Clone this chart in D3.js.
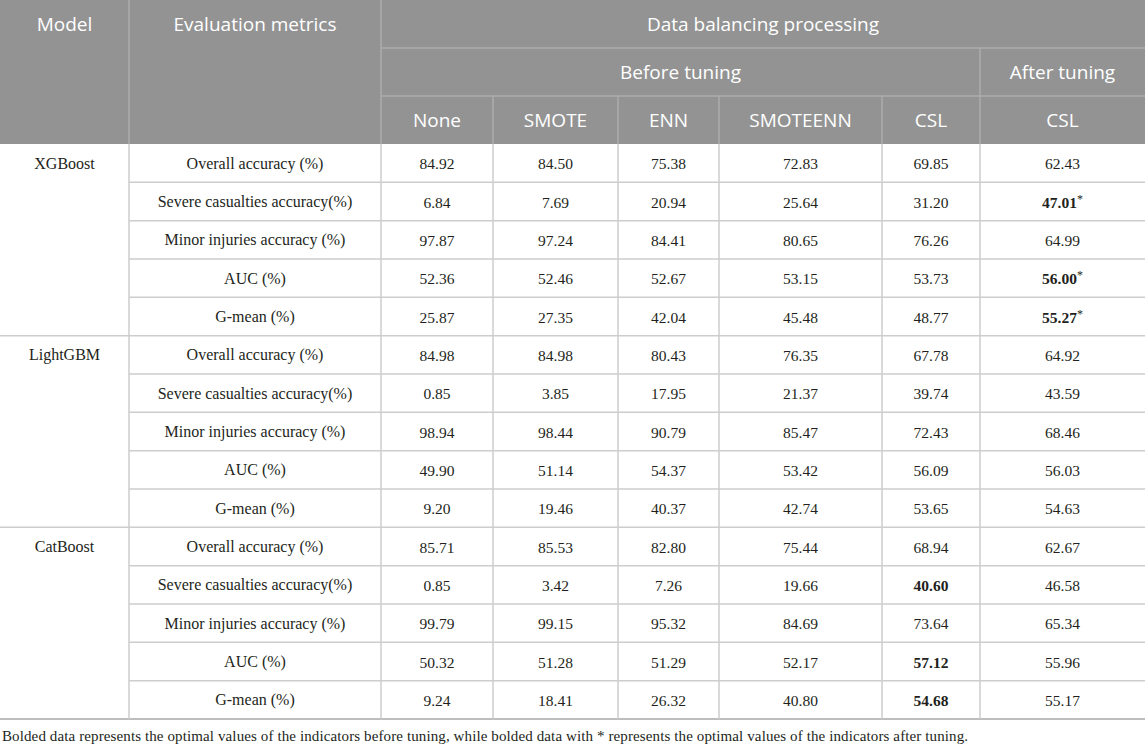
<!DOCTYPE html>
<html>
<head>
<meta charset="utf-8">
<script src="https://cdn.jsdelivr.net/npm/d3@7"></script>
<style>
  body { margin: 0; background: #fff; }
  svg { display: block; }
</style>
</head>
<body>
<svg id="tabella" width="1145" height="745"></svg>
<script>
// dati della tabella
var models = ["XGBoost", "LightGBM", "CatBoost"];
var metrics = ["Overall accuracy (%)", "Severe casualties accuracy(%)", "Minor injuries accuracy (%)", "AUC (%)", "G-mean (%)"];
var methods = ["None", "SMOTE", "ENN", "SMOTEENN", "CSL", "CSL"];
var groupTop = "Data balancing processing";
var groupBefore = "Before tuning";
var groupAfter = "After tuning";

var xgboost = [
  [84.92, 84.50, 75.38, 72.83, 69.85, 62.43],
  [6.84, 7.69, 20.94, 25.64, 31.20, 47.01],
  [97.87, 97.24, 84.41, 80.65, 76.26, 64.99],
  [52.36, 52.46, 52.67, 53.15, 53.73, 56.00],
  [25.87, 27.35, 42.04, 45.48, 48.77, 55.27]
];
var lightgbm = [
  [84.98, 84.98, 80.43, 76.35, 67.78, 64.92],
  [0.85, 3.85, 17.95, 21.37, 39.74, 43.59],
  [98.94, 98.44, 90.79, 85.47, 72.43, 68.46],
  [49.90, 51.14, 54.37, 53.42, 56.09, 56.03],
  [9.20, 19.46, 40.37, 42.74, 53.65, 54.63]
];
var catboost = [
  [85.71, 85.53, 82.80, 75.44, 68.94, 62.67],
  [0.85, 3.42, 7.26, 19.66, 40.60, 46.58],
  [99.79, 99.15, 95.32, 84.69, 73.64, 65.34],
  [50.32, 51.28, 51.29, 52.17, 57.12, 55.96],
  [9.24, 18.41, 26.32, 40.80, 54.68, 55.17]
];
// [modello, metrica, colonna, asterisco]
var bolded = [
  [0, 1, 5, true], [0, 3, 5, true], [0, 4, 5, true],
  [2, 1, 4, false], [2, 3, 4, false], [2, 4, 4, false]
];
var footnote = "Bolded data represents the optimal values of the indicators before tuning, while bolded data with * represents the optimal values of the indicators after tuning.";

var tables = [xgboost, lightgbm, catboost];

// layout
var colEdges = [0, 129, 381, 493, 618, 719, 882, 980, 1145];
var headH = 48;
var headRows = 3;
var bodyTop = headH * headRows;
var bodyBottom = 719;

var svg = d3.select('#tabella');
var fmt = d3.format('.2f');
var serif = "'Liberation Serif', 'Times New Roman', serif";
var sans = "'Open Sans', 'Noto Sans', sans-serif";
var headBg = '#939393';
var headLine = '#acacac';
var bodyLine = '#cdcdcd';

// righe del corpo
var rowKeys = [];
models.forEach(function (m, i) {
  metrics.forEach(function (k, j) { rowKeys.push(i + '-' + j); });
});
var y = d3.scaleBand().domain(rowKeys).range([bodyTop, bodyBottom]);
var colCenter = function (c) { return (colEdges[c] + colEdges[c + 1]) / 2; };

// intestazione
svg.append('rect').attr('x', 0).attr('y', 0).attr('width', 1145).attr('height', bodyTop).attr('fill', headBg);

var hline = function (x1, x2, yy, col, w) {
  svg.append('line').attr('x1', x1).attr('x2', x2).attr('y1', yy).attr('y2', yy)
    .attr('stroke', col).attr('stroke-width', w || 1.5);
};
var vline = function (xx, y1, y2, col, w) {
  svg.append('line').attr('x1', xx).attr('x2', xx).attr('y1', y1).attr('y2', y2)
    .attr('stroke', col).attr('stroke-width', w || 1.5);
};

hline(colEdges[2], 1145, headH, headLine);
hline(colEdges[2], 1145, headH * 2, headLine);
vline(colEdges[1], 0, bodyTop, headLine);
vline(colEdges[2], 0, bodyTop, headLine);
vline(colEdges[7], headH, bodyTop, headLine);
for (var c = 3; c < 7; c++) vline(colEdges[c], headH * 2, bodyTop, headLine);

var headText = function (xx, yy, t) {
  svg.append('text').attr('x', xx).attr('y', yy).attr('text-anchor', 'middle')
    .attr('dominant-baseline', 'central').attr('fill', '#fff')
    .style('font-family', sans).style('font-size', '19px').text(t);
};
headText(colCenter(0), headH / 2, 'Model');
headText(colCenter(1), headH / 2, 'Evaluation metrics');
headText((colEdges[2] + colEdges[8]) / 2, headH / 2, groupTop);
headText((colEdges[2] + colEdges[7]) / 2, headH * 1.5, groupBefore);
headText(colCenter(7), headH * 1.5, groupAfter);
methods.forEach(function (m, i) { headText(colCenter(i + 2), headH * 2.5, m); });

// griglia del corpo
rowKeys.forEach(function (k, idx) {
  if (idx === 0) return;
  var j = idx % metrics.length;
  hline(j === 0 ? 0 : colEdges[1], 1145, y(k), bodyLine, 1.5);
});
hline(0, 1145, bodyBottom, '#bdbdbd', 2);
for (var c2 = 1; c2 < 8; c2++) vline(colEdges[c2], bodyTop, bodyBottom, bodyLine, 1.5);

// testo del corpo
var bodyText = function (xx, yy, t, size) {
  return svg.append('text').attr('x', xx).attr('y', yy).attr('text-anchor', 'middle')
    .attr('dominant-baseline', 'central').attr('fill', '#231f20')
    .style('font-family', serif).style('font-size', (size || 15) + 'px').text(t);
};

models.forEach(function (m, i) {
  var first = y(i + '-0');
  bodyText(colCenter(0), first + y.bandwidth() / 2, m, 16);
  metrics.forEach(function (k, j) {
    var yy = y(i + '-' + j) + y.bandwidth() / 2;
    bodyText(colCenter(1), yy, k, 16);
    tables[i][j].forEach(function (v, c) {
      var b = bolded.find(function (d) { return d[0] === i && d[1] === j && d[2] === c; });
      var t = bodyText(colCenter(c + 2), yy, null, 15.5);
      t.append('tspan').style('font-weight', b ? 'bold' : 'normal').text(fmt(v));
      if (b && b[3]) t.append('tspan').attr('dy', -3).style('font-size', '12px').text('*');
    });
  });
});

// nota
svg.append('text').attr('x', 2).attr('y', 736).attr('dominant-baseline', 'central')
  .attr('fill', '#231f20').style('font-family', serif).style('font-size', '15px')
  .attr('textLength', 966).attr('lengthAdjust', 'spacing').text(footnote);
</script>
</body>
</html>
